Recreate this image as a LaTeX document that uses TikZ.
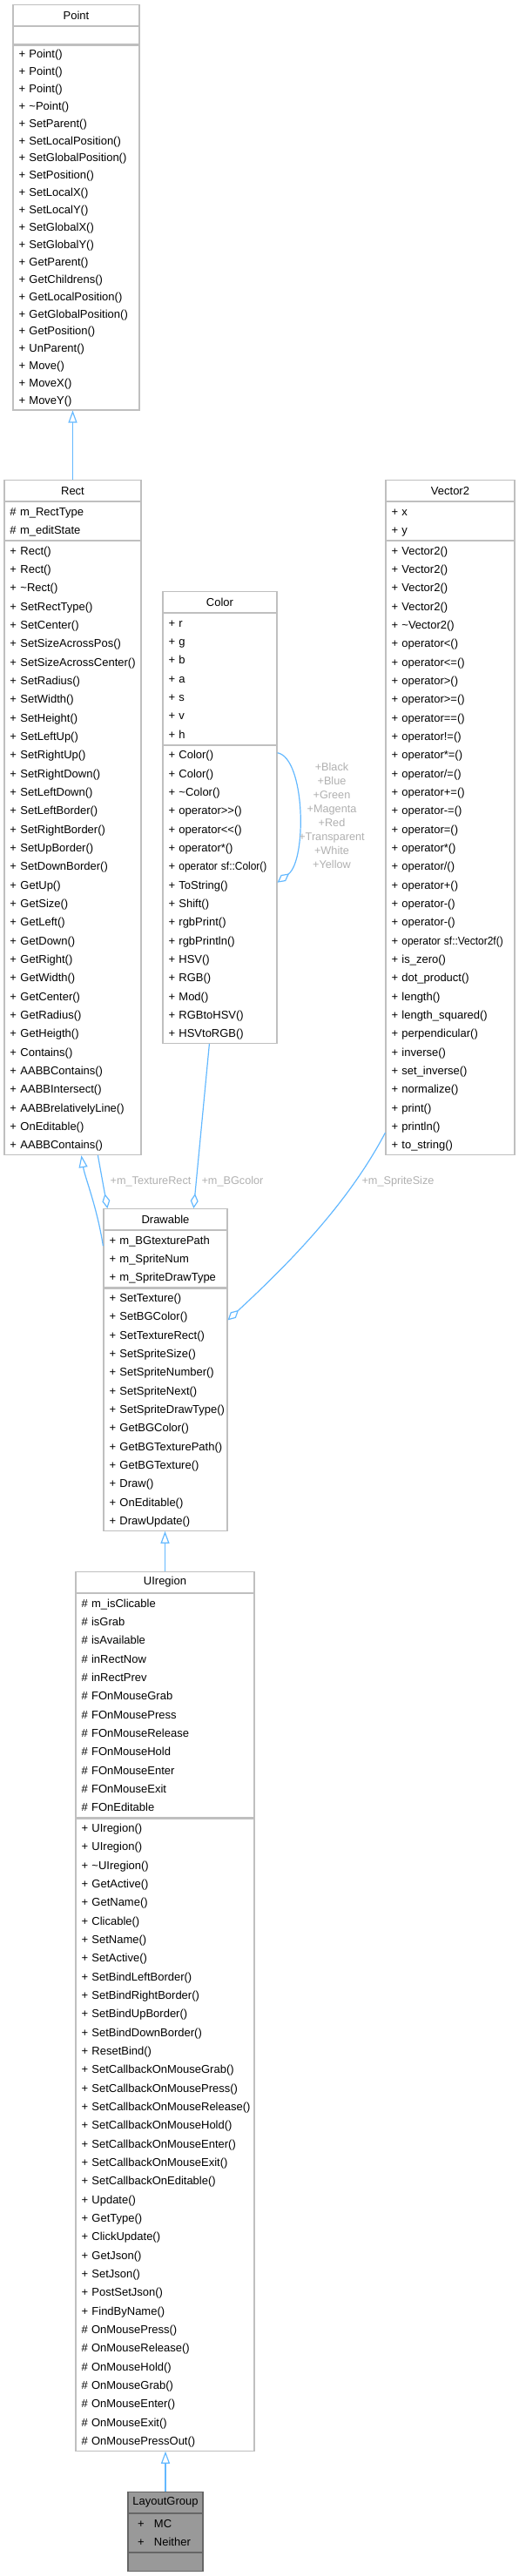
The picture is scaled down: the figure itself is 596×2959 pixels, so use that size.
\documentclass[tikz,border=0pt]{standalone}
\usepackage{fontspec}
\setmainfont{Liberation Sans}
\usepackage{graphicx}
\usetikzlibrary{arrows.meta}
\definecolor{bordc}{HTML}{BFBFBF}
\definecolor{edgec}{HTML}{63B8FF}
\definecolor{lblc}{HTML}{B0B0B0}
\definecolor{lgfill}{HTML}{999999}
\definecolor{lgbord}{HTML}{666666}
\newcommand{\rowfont}{\fontsize{13}{21.33}\selectfont}
\newcommand{\prowfont}{\fontsize{13}{19.9}\selectfont}
\newcommand{\lblfont}{\fontsize{12.7}{16}\selectfont}
\newcommand{\rwstrut}{\rule[-6.33pt]{0pt}{21.33pt}}
\newcommand{\rw}{\rwstrut\hspace*{6.5pt}}
\newcommand{\rwp}{\rule[-5.9pt]{0pt}{19.9pt}\hspace*{6.5pt}}
\newcommand{\tld}{\textasciitilde}
\newcommand{\nrw}[1]{\scalebox{0.92}[1]{#1}}
\tikzset{
  box/.style={draw=bordc, fill=white, line width=1.2pt, inner xsep=0pt, inner ysep=0.5pt, anchor=north, font=\rowfont},
  hdr/.style={box, align=center, minimum height=24pt, inner ysep=0pt},
  sec/.style={box, align=left},
  lgbox/.style={draw=lgbord, fill=lgfill},
  inh/.style={draw=edgec, line width=1.2pt, -{Triangle[open, length=14pt, width=10pt]}},
  agg/.style={draw=edgec, line width=1.2pt, -{Diamond[open, length=17pt, width=9pt]}},
  lbl/.style={text=lblc, font=\lblfont, inner sep=0pt, align=center},
}
\begin{document}
\begin{tikzpicture}[x=1pt, y=-1pt]
\useasboundingbox (0,0) rectangle (596,2959);

% ---------- Point ----------
\node[hdr, text width=145pt] (point) at (87.5,5) {Point};
\node[sec, text width=145pt, minimum height=20pt] (point-a) at (point.south) {};
\node[sec, text width=145pt, font=\prowfont] (point-m) at (point-a.south) {%
\rwp + Point()\\
\rwp + Point()\\
\rwp + Point()\\
\rwp + \tld Point()\\
\rwp + SetParent()\\
\rwp + SetLocalPosition()\\
\rwp + SetGlobalPosition()\\
\rwp + SetPosition()\\
\rwp + SetLocalX()\\
\rwp + SetLocalY()\\
\rwp + SetGlobalX()\\
\rwp + SetGlobalY()\\
\rwp + GetParent()\\
\rwp + GetChildrens()\\
\rwp + GetLocalPosition()\\
\rwp + GetGlobalPosition()\\
\rwp + GetPosition()\\
\rwp + UnParent()\\
\rwp + Move()\\
\rwp + MoveX()\\
\rwp + MoveY()};

% ---------- Rect ----------
\node[hdr, text width=157pt] (rect) at (83.5,551) {Rect};
\node[sec, text width=157pt] (rect-a) at (rect.south) {%
\rw \# m\_RectType\\
\rw \# m\_editState};
\node[sec, text width=157pt] (rect-m) at (rect-a.south) {%
\rw + Rect()\\
\rw + Rect()\\
\rw + \tld Rect()\\
\rw + SetRectType()\\
\rw + SetCenter()\\
\rw + SetSizeAcrossPos()\\
\rw + SetSizeAcrossCenter()\\
\rw + SetRadius()\\
\rw + SetWidth()\\
\rw + SetHeight()\\
\rw + SetLeftUp()\\
\rw + SetRightUp()\\
\rw + SetRightDown()\\
\rw + SetLeftDown()\\
\rw + SetLeftBorder()\\
\rw + SetRightBorder()\\
\rw + SetUpBorder()\\
\rw + SetDownBorder()\\
\rw + GetUp()\\
\rw + GetSize()\\
\rw + GetLeft()\\
\rw + GetDown()\\
\rw + GetRight()\\
\rw + GetWidth()\\
\rw + GetCenter()\\
\rw + GetRadius()\\
\rw + GetHeigth()\\
\rw + Contains()\\
\rw + AABBContains()\\
\rw + AABBIntersect()\\
\rw + AABBrelativelyLine()\\
\rw + OnEditable()\\
\rw + AABBContains()};

% ---------- Color ----------
\node[hdr, text width=131pt] (color) at (252.5,679) {Color};
\node[sec, text width=131pt] (color-a) at (color.south) {%
\rw + r\\
\rw + g\\
\rw + b\\
\rw + a\\
\rw + s\\
\rw + v\\
\rw + h};
\node[sec, text width=131pt] (color-m) at (color-a.south) {%
\rw + Color()\\
\rw + Color()\\
\rw + \tld Color()\\
\rw + operator>\kern0pt>()\\
\rw + operator<\kern0pt<()\\
\rw + operator*()\\
\rw + \nrw{operator sf::Color()}\\
\rw + ToString()\\
\rw + Shift()\\
\rw + rgbPrint()\\
\rw + rgbPrintln()\\
\rw + HSV()\\
\rw + RGB()\\
\rw + Mod()\\
\rw + RGBtoHSV()\\
\rw + HSVtoRGB()};

% ---------- Vector2 ----------
\node[hdr, text width=148pt] (vector2) at (517,551) {Vector2};
\node[sec, text width=148pt] (vector2-a) at (vector2.south) {%
\rw + x\\
\rw + y};
\node[sec, text width=148pt] (vector2-m) at (vector2-a.south) {%
\rw + Vector2()\\
\rw + Vector2()\\
\rw + Vector2()\\
\rw + Vector2()\\
\rw + \tld Vector2()\\
\rw + operator<()\\
\rw + operator<=()\\
\rw + operator>()\\
\rw + operator>=()\\
\rw + operator==()\\
\rw + operator!=()\\
\rw + operator*=()\\
\rw + operator/=()\\
\rw + operator+=()\\
\rw + operator-=()\\
\rw + operator=()\\
\rw + operator*()\\
\rw + operator/()\\
\rw + operator+()\\
\rw + operator-()\\
\rw + operator-()\\
\rw + \nrw{operator sf::Vector2f()}\\
\rw + is\_zero()\\
\rw + dot\_product()\\
\rw + length()\\
\rw + length\_squared()\\
\rw + perpendicular()\\
\rw + inverse()\\
\rw + set\_inverse()\\
\rw + normalize()\\
\rw + print()\\
\rw + println()\\
\rw + to\_string()};

% ---------- Drawable ----------
\node[hdr, text width=142pt] (drawable) at (190,1388) {Drawable};
\node[sec, text width=142pt] (drawable-a) at (drawable.south) {%
\rw + m\_BGtexturePath\\
\rw + m\_SpriteNum\\
\rw + m\_SpriteDrawType};
\node[sec, text width=142pt] (drawable-m) at (drawable-a.south) {%
\rw + SetTexture()\\
\rw + SetBGColor()\\
\rw + SetTextureRect()\\
\rw + SetSpriteSize()\\
\rw + SetSpriteNumber()\\
\rw + SetSpriteNext()\\
\rw + SetSpriteDrawType()\\
\rw + GetBGColor()\\
\rw + GetBGTexturePath()\\
\rw + GetBGTexture()\\
\rw + Draw()\\
\rw + OnEditable()\\
\rw + DrawUpdate()};

% ---------- UIregion ----------
\node[hdr, text width=205pt] (uiregion) at (189.5,1805) {UIregion};
\node[sec, text width=205pt] (uiregion-a) at (uiregion.south) {%
\rw \# m\_isClicable\\
\rw \# isGrab\\
\rw \# isAvailable\\
\rw \# inRectNow\\
\rw \# inRectPrev\\
\rw \# FOnMouseGrab\\
\rw \# FOnMousePress\\
\rw \# FOnMouseRelease\\
\rw \# FOnMouseHold\\
\rw \# FOnMouseEnter\\
\rw \# FOnMouseExit\\
\rw \# FOnEditable};
\node[sec, text width=205pt] (uiregion-m) at (uiregion-a.south) {%
\rw + UIregion()\\
\rw + UIregion()\\
\rw + \tld UIregion()\\
\rw + GetActive()\\
\rw + GetName()\\
\rw + Clicable()\\
\rw + SetName()\\
\rw + SetActive()\\
\rw + SetBindLeftBorder()\\
\rw + SetBindRightBorder()\\
\rw + SetBindUpBorder()\\
\rw + SetBindDownBorder()\\
\rw + ResetBind()\\
\rw + SetCallbackOnMouseGrab()\\
\rw + SetCallbackOnMousePress()\\
\rw + SetCallbackOnMouseRelease()\\
\rw + SetCallbackOnMouseHold()\\
\rw + SetCallbackOnMouseEnter()\\
\rw + SetCallbackOnMouseExit()\\
\rw + SetCallbackOnEditable()\\
\rw + Update()\\
\rw + GetType()\\
\rw + ClickUpdate()\\
\rw + GetJson()\\
\rw + SetJson()\\
\rw + PostSetJson()\\
\rw + FindByName()\\
\rw \# OnMousePress()\\
\rw \# OnMouseRelease()\\
\rw \# OnMouseHold()\\
\rw \# OnMouseGrab()\\
\rw \# OnMouseEnter()\\
\rw \# OnMouseExit()\\
\rw \# OnMousePressOut()};

% ---------- LayoutGroup ----------
\node[hdr, lgbox, text width=86pt] (layoutgroup) at (190,2862) {LayoutGroup};
\node[sec, lgbox, text width=86pt] (layoutgroup-a) at (layoutgroup.south) {%
\rwstrut\hspace*{11pt}+\hspace*{11.4pt}MC\\
\rwstrut\hspace*{11pt}+\hspace*{11.4pt}Neither};
\node[sec, lgbox, text width=86pt, minimum height=21pt] (layoutgroup-m) at (layoutgroup-a.south) {};

% ---------- connectors ----------
\draw[inh] (rect.north) -- (rect.north |- point-m.south);
\draw[inh] ([yshift=-18pt]drawable.south west) .. controls +(-7,-45) and +(4,25) .. ([xshift=89pt]rect-m.south west);
\draw[agg] ([xshift=108pt]rect-m.south west) -- ([xshift=5pt]drawable.north west);
\draw[agg] ([xshift=54pt]color-m.south west) -- ([xshift=104pt]drawable.north west);
\draw[agg] ([yshift=26pt]vector2-m.south west) .. controls +(-43,82) and +(69,-64) .. ([yshift=-37pt]drawable-m.north east);
\draw[agg] ([yshift=-9pt]color-m.north east) .. controls +(32,6) and +(34,-26) .. ([yshift=-158pt]color-m.north east);
\draw[inh] (uiregion.north) -- (uiregion.north |- drawable-m.south);
\draw[inh] (layoutgroup.north) -- (layoutgroup.north |- uiregion-m.south);

% ---------- labels ----------
\node[lbl] (texlbl) at (173,1357) {+m\_TextureRect};
\node[lbl] (bglbl) at (267,1357) {+m\_BGcolor};
\node[lbl] (spritelbl) at (457,1357) {+m\_SpriteSize};
\node[lbl] (looplbl) at (381,937) {+Black\\+Blue\\+Green\\+Magenta\\+Red\\+Transparent\\+White\\+Yellow};
\end{tikzpicture}
\end{document}
